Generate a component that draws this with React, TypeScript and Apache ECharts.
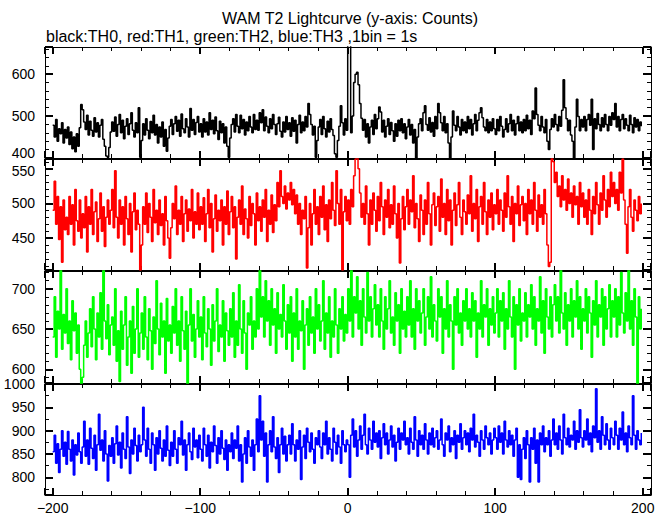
import React, { useEffect, useRef } from 'react';
import * as echarts from 'echarts';

const START_TIME = -200;
const TITLE = 'WAM T2 Lightcurve (y-axis: Counts)';
const SUBTITLE = 'black:TH0, red:TH1, green:TH2, blue:TH3 ,1bin = 1s';

const TH0 = [
  478,450,492,440,470,458,484,436,468,448,474,432,462,422,450,415,458,428,472,528,
  515,486,468,502,455,488,466,452,496,462,484,450,478,492,445,428,405,402,425,462,
  486,464,498,452,480,504,460,490,446,476,494,456,482,508,466,450,484,460,520,402,
  442,482,455,494,466,446,487,460,502,455,480,436,474,450,486,428,468,416,448,476,
  492,456,482,499,464,490,452,505,470,460,494,474,450,518,466,492,456,485,499,462,
  482,450,494,462,486,455,508,468,490,458,498,465,444,488,460,482,436,474,428,402,
  448,480,494,462,504,476,460,502,470,492,455,486,465,499,474,460,504,468,490,466,
  508,484,515,465,498,476,460,494,470,504,480,456,482,497,464,450,486,462,499,468,
  484,452,496,464,490,436,480,502,460,486,465,499,474,530,504,480,455,476,402,442,
  474,492,456,499,470,450,488,462,494,468,454,410,402,442,476,525,484,455,494,466,
  700,690,460,500,580,600,605,575,530,495,466,492,450,482,436,474,490,456,504,470,
  494,522,510,462,490,450,476,494,456,485,465,440,482,452,490,465,494,460,482,446,
  474,492,455,480,436,468,400,450,482,494,465,508,525,480,466,496,462,485,452,499,
  470,530,508,484,465,499,460,482,436,400,450,512,478,465,499,474,455,492,465,486,
  460,499,470,492,455,482,504,465,490,508,520,496,474,465,492,460,486,465,494,470,
  456,492,465,499,476,450,468,494,462,482,504,465,490,455,482,499,465,486,460,492,
  465,502,470,490,456,512,494,567,504,478,465,499,474,460,492,440,420,468,494,474,
  504,480,465,499,476,514,587,520,494,465,490,455,440,400,474,540,499,465,492,474,
  499,465,492,504,478,540,420,494,470,506,480,465,496,474,504,480,465,499,478,508,
  492,530,474,499,465,492,504,470,494,478,465,502,480,460,496,474,492,465,486,476,
];

const TH1 = [
  490,532,470,510,448,495,415,505,462,480,455,510,470,498,440,520,475,460,505,450,
  485,465,510,430,495,470,520,455,488,502,445,478,515,460,495,438,480,505,470,490,
  520,465,547,480,450,505,470,495,440,510,478,455,500,430,488,515,462,490,470,404,
  440,495,470,515,458,500,480,445,520,472,490,455,505,468,485,440,510,475,450,421,
  465,500,478,525,455,490,470,510,445,485,505,460,492,475,520,450,488,470,515,462,
  495,470,508,445,485,520,465,500,430,478,512,460,490,475,505,440,495,470,518,455,
  488,510,465,495,420,480,505,470,525,455,492,478,450,510,468,500,485,440,515,475,
  495,460,505,480,520,445,490,470,512,458,498,475,530,495,547,510,500,525,492,515,
  505,530,498,520,485,512,470,500,455,490,478,510,407,465,500,440,485,520,470,495,
  455,510,480,525,462,498,445,505,478,530,490,468,547,500,470,520,404,488,510,475,
  505,470,520,495,540,564,575,550,515,480,500,470,525,485,440,505,470,515,490,460,
  510,475,530,495,455,505,480,520,465,498,470,525,485,450,500,414,478,510,462,495,
  520,470,505,488,540,465,500,478,445,512,490,455,505,470,530,485,440,498,515,468,
  495,510,460,535,480,500,455,520,475,505,440,490,515,468,498,530,480,455,505,488,
  470,512,485,540,460,500,478,520,445,495,510,470,530,488,455,505,480,515,462,498,
  485,520,470,505,490,460,515,480,540,495,470,510,445,500,485,525,468,498,510,475,
  500,455,520,485,505,470,530,490,460,512,480,498,470,520,485,440,409,415,575,560,
  530,545,510,525,495,540,505,520,490,535,500,515,480,525,498,510,470,530,495,515,
  480,505,470,520,490,455,510,485,530,498,470,515,490,540,505,480,520,495,545,510,
  530,500,520,490,545,515,564,505,470,428,495,520,480,460,505,490,475,510,485,500,
];

const TH2 = [
  640,690,615,672,650,725,625,668,645,700,632,660,612,685,648,670,620,655,600,580,
  590,630,660,615,645,675,628,690,650,612,670,640,695,625,725,660,638,680,618,655,
  665,630,700,610,648,585,672,625,655,690,605,640,660,595,678,620,650,700,615,645,
  670,625,690,640,612,675,648,600,665,632,710,650,618,682,640,660,595,688,635,655,
  620,678,645,700,630,660,610,690,648,625,672,580,655,700,635,668,615,650,685,640,
  665,612,690,645,628,675,650,605,680,635,660,700,622,655,640,685,610,670,648,630,
  675,640,695,615,660,630,705,650,620,685,645,600,670,655,690,625,660,640,700,650,
  725,665,690,640,710,660,685,630,700,655,675,620,695,650,668,640,705,660,625,680,
  645,690,610,670,640,700,625,660,648,685,600,655,675,630,690,645,665,620,700,650,
  680,635,660,710,625,670,645,690,615,660,640,700,655,620,675,650,690,635,668,645,
  700,660,725,640,690,670,715,650,685,630,700,665,645,720,660,690,640,675,705,655,
  680,640,700,660,625,690,650,675,710,645,665,630,695,660,680,620,700,650,672,640,
  690,655,710,640,675,625,700,660,685,645,670,700,630,665,690,650,715,640,680,660,
  635,700,665,690,620,675,650,710,640,680,660,600,690,655,700,645,670,630,685,660,
  700,650,675,640,695,660,685,615,670,650,710,640,680,665,700,630,675,655,690,645,
  670,700,640,685,660,695,625,675,650,710,665,640,690,600,680,655,700,635,670,660,
  695,640,680,665,705,650,690,630,675,660,715,645,685,620,700,665,650,690,640,680,
  705,660,690,645,725,670,650,695,630,680,660,700,640,685,665,710,650,690,625,675,
  660,700,645,690,670,615,685,655,710,640,680,665,700,630,690,650,675,705,640,685,
  665,700,640,690,655,720,670,645,695,660,725,650,685,630,700,665,580,690,650,675,
];

const TH3 = [
  855,890,830,872,810,860,900,845,875,828,898,860,835,880,805,870,848,895,855,830,
  865,920,845,880,828,905,862,840,890,815,870,935,858,880,835,900,850,792,868,845,
  885,830,872,910,848,875,820,895,860,840,930,865,808,880,850,905,868,835,890,855,
  870,950,880,845,905,860,830,895,870,815,885,850,900,862,835,880,845,910,858,825,
  875,845,900,860,830,885,870,920,848,880,815,870,895,855,838,905,865,880,842,890,
  860,835,905,870,845,890,820,875,855,910,868,830,885,850,900,862,838,880,815,870,
  855,895,840,880,862,910,835,870,790,850,885,830,900,865,845,880,815,870,925,855,
  975,880,920,845,895,790,870,900,855,930,865,840,885,810,870,905,850,888,835,870,
  890,850,915,870,835,880,860,900,795,865,890,840,905,875,855,895,860,830,885,870,
  900,865,840,895,870,920,850,885,860,835,905,875,850,890,865,830,900,870,855,880,
  870,800,890,925,865,900,845,880,910,860,890,935,870,850,905,880,860,920,875,895,
  865,900,840,885,915,870,895,850,880,910,865,890,835,875,905,860,895,880,920,870,
  885,850,905,875,860,930,880,845,900,870,890,860,915,880,850,895,870,905,865,885,
  900,860,880,925,870,845,895,880,910,855,885,870,900,840,890,875,915,860,885,900,
  870,895,855,905,880,935,865,890,875,845,900,880,860,910,885,870,895,850,880,905,
  885,860,910,875,895,850,920,880,865,900,870,890,845,880,905,800,870,795,860,885,
  840,900,870,790,885,860,905,830,880,790,895,870,910,855,885,870,900,845,880,925,
  870,895,860,910,880,850,935,885,870,905,865,890,880,920,860,900,875,945,885,865,
  900,880,925,870,895,855,910,885,990,875,900,860,930,890,870,915,880,860,905,885,
  870,920,890,860,905,880,940,870,895,855,910,885,870,975,890,860,900,880,870,895,
];

const SERIES = [TH0, TH1, TH2, TH3];
const COLORS = ['#000000', '#ff0000', '#00ff00', '#0000ff'];
const Y_MIN = [400, 404, 583, 762];
const Y_MAX = [665, 564, 722, 1000];
const Y_INTERVAL = [100, 50, 50, 50];
const Y_MINOR_SPLIT = [5, 5, 5, 2];
const X_MIN = -205.2;
const X_MAX = 205.6;
const X_INTERVAL = 100;

const GRID_TOPS = [47, 159, 271, 384];
const GRID_HEIGHTS = [111, 111, 112, 112];

const FONT = "'Liberation Sans', Arial, Helvetica, sans-serif";

// Labels that sit right at a panel seam get nudged apart (lo: up, hi: down).
const NUDGE_LO = [400, null, null, null];
const NUDGE_HI = [null, 550, null, null];

function fmt(interval: number, lo?: number | null, hi?: number | null) {
  return (v: number) => {
    const r = Math.abs(v / interval - Math.round(v / interval));
    if (r > 1e-6) return '';
    const s = String(Math.round(v)).replace('-', '\u2212');
    if (lo != null && Math.abs(v - lo) < 1e-6) return `{lo|${s}}`;
    if (hi != null && Math.abs(v - hi) < 1e-6) return `{hi|${s}}`;
    return s;
  };
}

export default function App() {
  const ref = useRef<HTMLDivElement>(null);
  useEffect(() => {
    document.body.style.margin = '0';
    if (!ref.current) return;
    const chart = echarts.init(ref.current, undefined, { renderer: 'svg' });

    const grids: any[] = [];
    const xAxes: any[] = [];
    const yAxes: any[] = [];
    const series: any[] = [];

    const tickCommon = {
      axisLine: { show: true, onZero: false, lineStyle: { color: '#000', width: 1 } },
      splitLine: { show: false },
      minorSplitLine: { show: false },
    };

    for (let i = 0; i < 4; i++) {
      grids.push({ left: 45, right: 18, top: GRID_TOPS[i], height: GRID_HEIGHTS[i], containLabel: false });
      for (const pos of ['bottom', 'top']) {
        xAxes.push({
          ...tickCommon,
          type: 'value',
          gridIndex: i,
          position: pos,
          min: X_MIN,
          max: X_MAX,
          splitNumber: 4,
          minInterval: X_INTERVAL,
          maxInterval: X_INTERVAL,
          axisTick: { show: true, inside: true, length: 7, lineStyle: { color: '#000', width: 2 } },
          minorTick: { show: true, splitNumber: 5, length: 4, lineStyle: { color: '#000', width: 1 } },
          axisLabel: {
            show: i === 3 && pos === 'bottom',
            formatter: fmt(X_INTERVAL),
            color: '#000',
            fontFamily: FONT,
            fontSize: 14,
            margin: 6,
          },
        });
      }
      for (const pos of ['left', 'right']) {
        yAxes.push({
          ...tickCommon,
          type: 'value',
          gridIndex: i,
          position: pos,
          min: Y_MIN[i],
          max: Y_MAX[i],
          splitNumber: 3,
          minInterval: Y_INTERVAL[i],
          maxInterval: Y_INTERVAL[i],
          axisTick: { show: true, inside: true, length: 8, lineStyle: { color: '#000', width: 2 } },
          minorTick: { show: true, splitNumber: Y_MINOR_SPLIT[i], length: 4, lineStyle: { color: '#000', width: 1 } },
          axisLabel: {
            show: pos === 'left',
            formatter: fmt(Y_INTERVAL[i], NUDGE_LO[i], NUDGE_HI[i]),
            color: '#000',
            fontFamily: FONT,
            fontSize: 14,
            margin: 10,
            rich: {
              lo: { fontFamily: FONT, fontSize: 14, color: '#000', padding: [0, 0, 10, 0] },
              hi: { fontFamily: FONT, fontSize: 14, color: '#000', padding: [5, 0, 0, 0] },
            },
          },
        });
      }
      series.push({
        type: 'line',
        xAxisIndex: i * 2,
        yAxisIndex: i * 2,
        step: 'end',
        symbol: 'none',
        clip: true,
        lineStyle: { color: COLORS[i], width: 1.5 },
        data: SERIES[i].map((v, k) => [START_TIME + k, v]),
      });
    }

    chart.setOption({
      animation: false,
      backgroundColor: '#ffffff',
      grid: grids,
      xAxis: xAxes,
      yAxis: yAxes,
      series,
      graphic: [
        {
          type: 'text',
          x: 350,
          y: 18,
          style: { text: TITLE, fill: '#000', font: `16px ${FONT}`, textAlign: 'center', textVerticalAlign: 'middle' },
        },
        {
          type: 'text',
          x: 46,
          y: 36,
          style: { text: SUBTITLE, fill: '#000', font: `16px ${FONT}`, textAlign: 'left', textVerticalAlign: 'middle' },
        },
      ],
    });
    return () => chart.dispose();
  }, []);
  return <div ref={ref} style={{ width: 669, height: 515 }} />;
}
